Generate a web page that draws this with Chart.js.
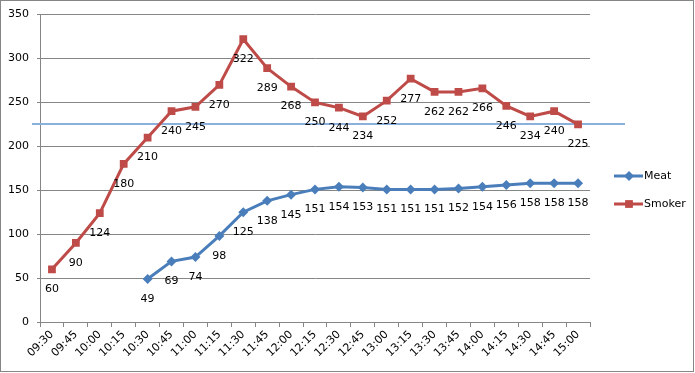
<!DOCTYPE html>
<html>
<head>
<meta charset="utf-8">
<script src="https://cdn.jsdelivr.net/npm/chart.js@4"></script>
<style>
  html, body { margin: 0; padding: 0; background: #fff; }
  #wrap { width: 695px; height: 373px; }
</style>
</head>
<body>
<div id="wrap"><canvas id="chart" width="695" height="373"></canvas></div>
<script>
// times of reading, every 15 minutes
const times = ['09:30', '09:45', '10:00', '10:15', '10:30', '10:45', '11:00', '11:15', '11:30', '11:45',
  '12:00', '12:15', '12:30', '12:45', '13:00', '13:15', '13:30', '13:45', '14:00', '14:15',
  '14:30', '14:45', '15:00'];
const meatTemps = [null, null, null, null, 49, 69, 74, 98, 125, 138, 145, 151, 154, 153, 151, 151,
  151, 152, 154, 156, 158, 158, 158];
const smokerTemps = [60, 90, 124, 180, 210, 240, 245, 270, 322, 289, 268, 250, 244, 234, 252, 277,
  262, 262, 266, 246, 234, 240, 225];
const targetTemp = 225;

const FONT = "'DejaVu Sans', Verdana, sans-serif";
const GRID = '#868686';
const MEAT = '#4a7ebb';
const SMOKER = '#be4b48';

// value labels under every point
const valueLabels = {
  id: 'valueLabels',
  afterDatasetsDraw(chart) {
    const ctx = chart.ctx;
    ctx.save();
    ctx.font = '11px ' + FONT;
    ctx.fillStyle = '#000';
    ctx.textAlign = 'center';
    ctx.textBaseline = 'middle';
    chart.data.datasets.forEach((ds, i) => {
      chart.getDatasetMeta(i).data.forEach((pt, j) => {
        if (ds.data[j] == null) return;
        ctx.fillText(ds.data[j], pt.x, pt.y + 20);
      });
    });
    ctx.restore();
  }
};

// thin reference line at the target temperature
const targetLine = {
  id: 'targetLine',
  beforeDatasetsDraw(chart) {
    const ctx = chart.ctx;
    const y = Math.round(chart.scales.y.getPixelForValue(targetTemp));
    ctx.save();
    ctx.strokeStyle = '#8cb0dc';
    ctx.lineWidth = 2;
    ctx.beginPath();
    ctx.moveTo(32, y);
    ctx.lineTo(625, y);
    ctx.stroke();
    ctx.restore();
  }
};

// legend on the right + outer border
const sideLegend = {
  id: 'sideLegend',
  afterDraw(chart) {
    const ctx = chart.ctx;
    ctx.save();
    ctx.strokeStyle = GRID;
    ctx.lineWidth = 1;
    ctx.strokeRect(0.5, 0.5, 693, 371);
    const items = [
      { text: 'Meat', color: MEAT, style: 'rectRot', y: 176 },
      { text: 'Smoker', color: SMOKER, style: 'rect', y: 204 }
    ];
    items.forEach(it => {
      ctx.strokeStyle = it.color;
      ctx.lineWidth = 3;
      ctx.beginPath();
      ctx.moveTo(614, it.y);
      ctx.lineTo(643, it.y);
      ctx.stroke();
      ctx.fillStyle = it.color;
      Chart.helpers.drawPoint(ctx, { pointStyle: it.style, radius: it.style === 'rect' ? 5.5 : 5, rotation: 0, borderWidth: 0 }, 629, it.y);
      ctx.fillStyle = '#000';
      ctx.font = '11px ' + FONT;
      ctx.textAlign = 'left';
      ctx.textBaseline = 'middle';
      ctx.fillText(it.text, 644, it.y);
    });
    ctx.restore();
  }
};

new Chart(document.getElementById('chart'), {
  type: 'line',
  data: {
    labels: times,
    datasets: [
      {
        label: 'Meat',
        data: meatTemps,
        borderColor: MEAT,
        backgroundColor: MEAT,
        borderWidth: 3,
        pointStyle: 'rectRot',
        pointRadius: 5,
        pointBorderWidth: 0,
        tension: 0
      },
      {
        label: 'Smoker',
        data: smokerTemps,
        borderColor: SMOKER,
        backgroundColor: SMOKER,
        borderWidth: 3,
        pointStyle: 'rect',
        pointRadius: 5.5,
        pointBorderWidth: 0,
        tension: 0
      }
    ]
  },
  options: {
    responsive: false,
    animation: false,
    layout: { padding: { left: 0, top: 14, right: 105, bottom: 0 } },
    plugins: {
      legend: { display: false },
      tooltip: { enabled: false }
    },
    scales: {
      x: {
        offset: true,
        grid: { offset: true, drawOnChartArea: false, drawTicks: true, tickLength: 5, color: GRID },
        border: { color: GRID },
        ticks: {
          minRotation: 45,
          maxRotation: 45,
          autoSkip: false,
          color: '#000',
          padding: 1,
          font: { family: FONT, size: 11 }
        },
        afterFit(scale) { scale.height = 51; }
      },
      y: {
        min: 0,
        max: 350,
        ticks: { stepSize: 50, color: '#000', padding: 8, font: { family: FONT, size: 11 } },
        grid: { color: GRID, tickLength: 3 },
        border: { color: GRID },
        afterFit(scale) { scale.width = 40; }
      }
    }
  },
  plugins: [targetLine, valueLabels, sideLegend]
});
</script>
</body>
</html>
